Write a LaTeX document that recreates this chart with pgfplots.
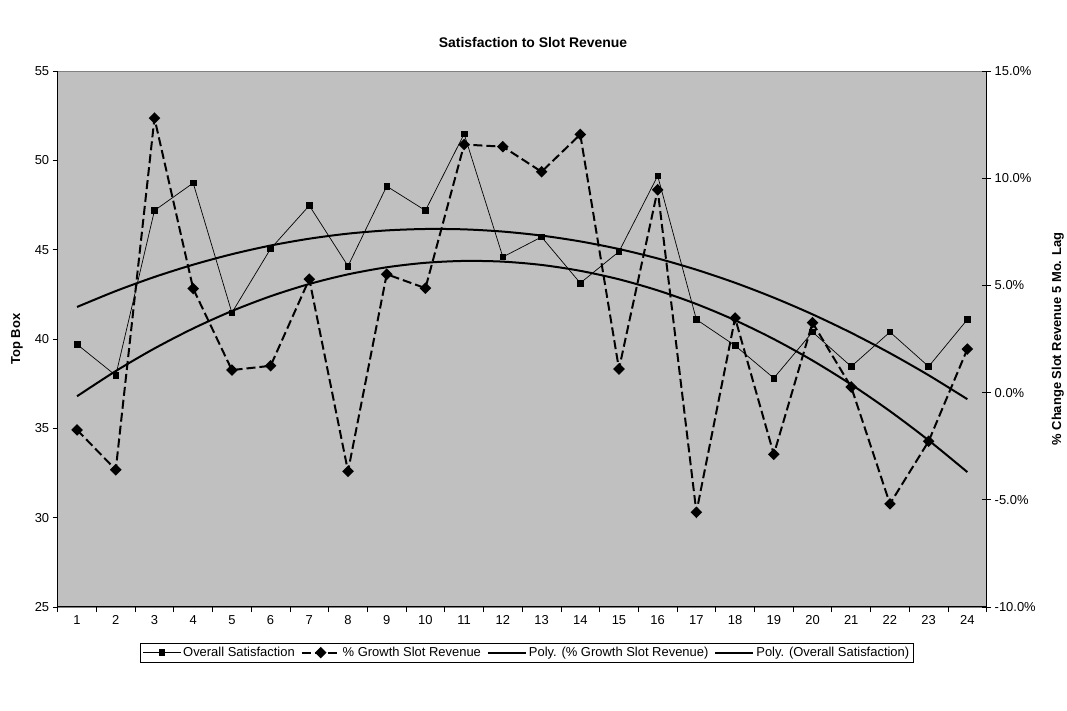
\documentclass[border=0pt]{standalone}
\usepackage{pgfplots}
\pgfplotsset{compat=1.18}
\usepackage{pgfplotstable}
\usepackage{fontspec}
\setmainfont{Liberation Sans}
\definecolor{plotbg}{RGB}{192,192,192}
\definecolor{plotborder}{RGB}{128,128,128}

\pgfplotstableread{
cat sat
1 39.70
2 37.96
3 47.19
4 48.73
5 41.47
6 45.05
7 47.47
8 44.08
9 48.55
10 47.19
11 51.48
12 44.59
13 45.71
14 43.13
15 44.89
16 49.13
17 41.09
18 39.63
19 37.81
20 40.39
21 38.46
22 40.39
23 38.46
24 41.09
}\sattable

\pgfplotstableread{
cat growth
1 -1.74
2 -3.60
3 12.80
4 4.85
5 1.05
6 1.25
7 5.29
8 -3.67
9 5.52
10 4.87
11 11.57
12 11.47
13 10.30
14 12.04
15 1.10
16 9.46
17 -5.58
18 3.48
19 -2.88
20 3.26
21 0.26
22 -5.19
23 -2.27
24 2.03
}\growthtable

% quadratic trend (least squares fit of the satisfaction series)
\pgfplotstableread{
cat trend
1 41.793
2 42.683
3 43.472
4 44.159
5 44.746
6 45.231
7 45.614
8 45.897
9 46.077
10 46.157
11 46.136
12 46.012
13 45.788
14 45.462
15 45.035
16 44.507
17 43.877
18 43.146
19 42.313
20 41.380
21 40.345
22 39.208
23 37.971
24 36.631
}\sattrend

% quadratic trend (least squares fit of the growth series)
\pgfplotstableread{
cat trend
1 -0.170
2 1.005
3 2.059
4 2.992
5 3.804
6 4.495
7 5.066
8 5.515
9 5.845
10 6.054
11 6.141
12 6.108
13 5.954
14 5.679
15 5.284
16 4.767
17 4.131
18 3.374
19 2.495
20 1.496
21 0.376
22 -0.865
23 -2.227
24 -3.708
}\growthtrend

\pgfplotsset{
  common/.style={
    at={(57.7bp,104bp)}, anchor=south west,
    scale only axis, width=929bp, height=536bp,
    xmin=0.5, xmax=24.5,
    tick label style={font=\fontsize{13}{15}\selectfont},
    label style={font=\bfseries\fontsize{13}{15}\selectfont},
    /pgf/number format/assume math mode=true,
    legend image code/.code={\draw[mark repeat=2,mark phase=2,#1] plot coordinates {(0bp,0bp) (19bp,0bp) (38bp,0bp)};},
  },
  satstyle/.style={black, line width=0.7bp, mark=square*, mark size=2.8bp, mark options={solid}},
  growthstyle/.style={black, line width=2bp, dash pattern=on 9bp off 4bp, mark=square*, mark size=3.1bp, mark options={solid, rotate=45}},
  trendstyle/.style={black, line width=2bp, no markers},
}

\begin{document}
\begin{tikzpicture}
\useasboundingbox (0,0) rectangle (1067bp,711bp);
\node[font=\bfseries\fontsize{14}{16}\selectfont] at (533bp,668bp) {Satisfaction to Slot Revenue};

\begin{axis}[common,
  axis background/.style={fill=plotbg, draw=plotborder, line width=0.8bp},
  axis y line*=left, axis x line*=bottom,
  axis line style={black, line width=1bp},
  ymin=25, ymax=55, ytick={25,30,...,55},
  xtick={1,...,24},
  xticklabels={1,2,3,4,5,6,7,8,9,10,11,12,13,14,15,16,17,18,19,20,21,22,23,24},
  major x tick style={draw=none},
  minor xtick={0.5,1.5,...,24.5},
  minor tick length=5bp,
  minor x tick style={black, line width=0.8bp},
  tick align=outside,
  major tick length=5bp,
  major y tick style={black, line width=0.8bp},
  ylabel={Top Box},
  ylabel style={at={(axis description cs:-0.0438,0.5)}, anchor=center},
  clip=false,
]
\addplot[satstyle] table[x=cat, y=sat] {\sattable};
\addplot[trendstyle, smooth] table[x=cat, y=trend] {\sattrend};
\end{axis}

\begin{axis}[common,
  axis y line*=right, axis x line=none,
  axis line style={black, line width=1bp},
  ymin=-10, ymax=15, ytick={-10,-5,...,15},
  yticklabels={-10.0\%,-5.0\%,0.0\%,5.0\%,10.0\%,15.0\%},
  tick align=center, major tick length=9bp,
  major y tick style={black, line width=0.8bp},
  ylabel={\% Change Slot Revenue 5 Mo. Lag},
  ylabel style={at={(axis description cs:1.0764,0.5)}, anchor=center},
  clip=false,
  legend columns=4,
  legend style={at={(0.505,-0.067)}, anchor=north, draw=black, line width=0.6bp,
    fill=white, font=\fontsize{13}{15}\selectfont, inner sep=2bp,
    /tikz/every even column/.append style={column sep=4bp}},
]
\addlegendimage{satstyle}
\addlegendentry{Overall Satisfaction}
\addplot[growthstyle] table[x=cat, y=growth] {\growthtable};
\addlegendentry{\% Growth Slot Revenue}
\addplot[trendstyle, smooth] table[x=cat, y=trend] {\growthtrend};
\addlegendentry{Poly. (\% Growth Slot Revenue)}
\addlegendimage{trendstyle}
\addlegendentry{Poly. (Overall Satisfaction)}
\end{axis}
\end{tikzpicture}
\end{document}
